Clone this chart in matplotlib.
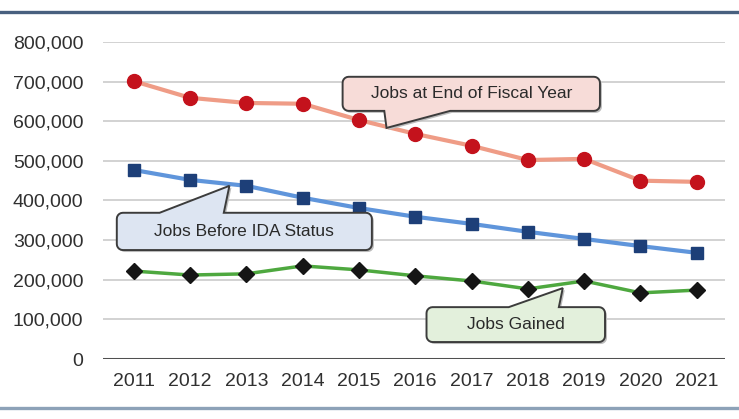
import numpy as np
import matplotlib
matplotlib.use('Agg')
from matplotlib import pyplot as plt
from matplotlib.patches import Polygon
from matplotlib.lines import Line2D
from matplotlib.ticker import FuncFormatter
from matplotlib.transforms import IdentityTransform

plt.rcParams['font.family'] = ['Liberation Sans Narrow', 'Liberation Sans', 'DejaVu Sans']

years = [2011, 2012, 2013, 2014, 2015, 2016, 2017, 2018, 2019, 2020, 2021]
jobs_end_of_year = [701000, 659000, 646000, 644000, 603000, 568000, 538000, 502000, 505000, 450000, 447000]
jobs_before_ida = [477000, 452000, 437000, 407000, 381000, 359000, 341000, 321000, 303000, 285000, 268000]
jobs_gained = [222000, 212000, 215000, 235000, 225000, 210000, 197000, 177000, 197000, 167000, 174000]

fig = plt.figure(figsize=(7.39, 4.19), dpi=100)
ax = fig.add_axes([0.139, 0.143, 0.842, 0.757])
ax.set_xlim(2010.45, 2021.5)
ax.set_ylim(0, 800000)

for s in ax.spines.values():
    s.set_visible(False)
ax.set_yticks(np.arange(0, 800001, 100000))
ax.set_xticks(years)
ax.yaxis.set_major_formatter(FuncFormatter(lambda v, p: '{:,.0f}'.format(v)))
ax.tick_params(length=0, labelsize=14, labelcolor='#303030')
ax.tick_params(axis='y', pad=14)
ax.tick_params(axis='x', pad=10)
ax.grid(axis='y', color='#cfcfcf', lw=1.3)
ax.set_axisbelow(True)
ax.axhline(0, color='#505050', lw=2.2, zorder=2)

ax.plot(years, jobs_end_of_year, color='#ef9c86', lw=3, marker='o', ms=10,
        mfc='#c4121c', mec='#c4121c', zorder=4)
ax.plot(years, jobs_before_ida, color='#5f95db', lw=3, marker='s', ms=8.5,
        mfc='#1d3f78', mec='#1d3f78', zorder=4)
ax.plot(years, jobs_gained, color='#4ea83f', lw=2.5, marker='D', ms=8,
        mfc='#151515', mec='#151515', zorder=4)


def callout(text, box, base, tip, side, face):
    # box, base and tip are in data units; outline is built in pixels
    t = ax.transData
    (x0, y0), (x1, y1) = t.transform([(box[0], box[1]), (box[2], box[3])])
    xa = t.transform((base[0], 0))[0]
    xb = t.transform((base[1], 0))[0]
    tx, ty = t.transform(tip)
    r = 6
    pts = []
    pts.append((x0 + r, y0))
    if side == 'bottom':
        pts += [(xa, y0), (tx, ty), (xb, y0)]
    pts.append((x1 - r, y0))
    for a in np.linspace(-90, 0, 6):
        pts.append((x1 - r + r * np.cos(np.radians(a)), y0 + r + r * np.sin(np.radians(a))))
    for a in np.linspace(0, 90, 6):
        pts.append((x1 - r + r * np.cos(np.radians(a)), y1 - r + r * np.sin(np.radians(a))))
    if side == 'top':
        pts += [(xb, y1), (tx, ty), (xa, y1)]
    for a in np.linspace(90, 180, 6):
        pts.append((x0 + r + r * np.cos(np.radians(a)), y1 - r + r * np.sin(np.radians(a))))
    for a in np.linspace(180, 270, 6):
        pts.append((x0 + r + r * np.cos(np.radians(a)), y0 + r + r * np.sin(np.radians(a))))
    shadow = Polygon([(x + 2, y - 2) for x, y in pts], closed=True, transform=IdentityTransform(),
                     fc='#bdbdbd', ec='none', zorder=5, clip_on=False)
    fig.add_artist(shadow)
    poly = Polygon(pts, closed=True, transform=IdentityTransform(),
                   fc=face, ec='#3c3c3c', lw=1.4, zorder=6, clip_on=False)
    fig.add_artist(poly)
    fig.text((x0 + x1) / 2 / fig.bbox.width, (y0 + y1) / 2 / fig.bbox.height, text,
             ha='center', va='center', fontsize=12.5, color='#2a2a2a', zorder=7)


callout('Jobs at End of Fiscal Year', (2014.71, 626000, 2019.28, 712000),
        (2015.45, 2016.62), (2015.49, 583000), 'bottom', '#f7dcd8')
callout('Jobs Before IDA Status', (2010.70, 275000, 2015.23, 369000),
        (2011.46, 2012.60), (2012.70, 437000), 'top', '#dde5f2')
callout('Jobs Gained', (2016.20, 43000, 2019.37, 131000),
        (2017.66, 2018.55), (2018.62, 179000), 'top', '#e3f0dc')

# rules above and below the chart
fig.add_artist(Line2D([0, 1], [1 - 12 / 419, 1 - 12 / 419], color='#48607f', lw=2.4))
fig.add_artist(Line2D([0, 1], [1 - 408 / 419, 1 - 408 / 419], color='#8da2b8', lw=2.4))

fig.savefig('out.png', dpi=100)
